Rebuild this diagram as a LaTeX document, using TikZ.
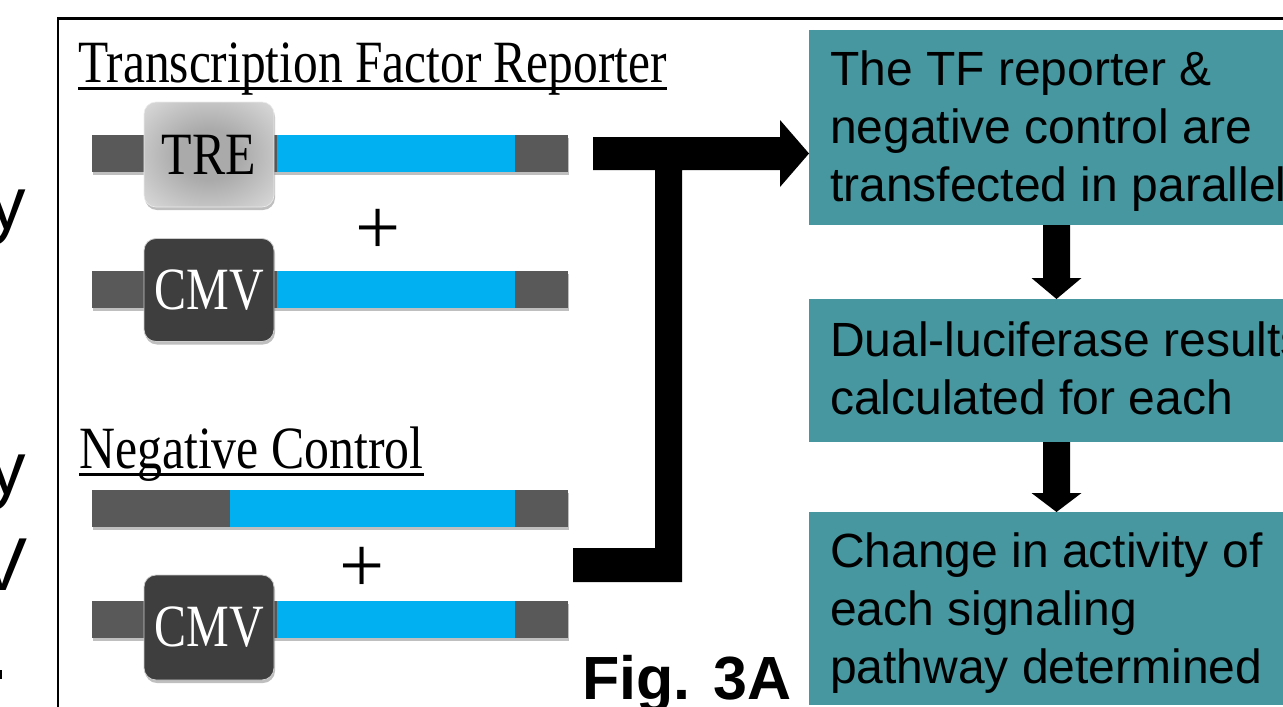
\documentclass[tikz,border=0pt]{standalone}
\usepackage{graphicx}
\usepackage{fontspec}
\setmainfont{Liberation Serif}
\newfontfamily\arialfont{Liberation Sans}
\usetikzlibrary{calc,shadows}

\definecolor{tealbox}{RGB}{70,151,159}
\definecolor{dnagrey}{RGB}{89,89,89}
\definecolor{dnablue}{RGB}{0,176,240}
\definecolor{cmvgrey}{RGB}{62,62,62}
\definecolor{trein}{RGB}{170,170,170}
\definecolor{tremid}{RGB}{215,215,215}
\definecolor{treout}{RGB}{245,245,245}

% soft grey glow for the TRE promoter box
\pgfdeclareradialshading{treglow}{\pgfpoint{0bp}{0bp}}{%
  color(0bp)=(trein); color(12bp)=(trein); color(34bp)=(tremid);
  color(50bp)=(treout); color(75bp)=(treout)}

\begin{document}
\begin{tikzpicture}[x=1pt,y=-1pt,
  softshadow/.style={drop shadow={shadow xshift=1pt,shadow yshift=-3pt,opacity=0.25,fill=black}},
  backbone/.style={rectangle,fill=dnagrey,draw=none,inner sep=0pt,outer sep=0pt,
    minimum height=37pt,softshadow},
  gene/.style={rectangle,fill=dnablue,draw=none,inner sep=0pt,outer sep=0pt,minimum height=37pt},
  promoter/.style={rectangle,rounded corners=12pt,inner sep=0pt,outer sep=0pt,
    minimum width=130pt,softshadow,font=\fontsize{60}{60}\selectfont},
  trebox/.style={promoter,shading=treglow,draw=white!92!black,line width=0.6pt},
  cmvbox/.style={promoter,fill=cmvgrey,draw=white!80!black,line width=0.8pt,text=white},
  heading/.style={inner sep=0pt,anchor=base west,font=\fontsize{60}{60}\selectfont},
  plussign/.style={inner sep=0pt,font=\fontsize{80}{80}\selectfont},
  stepbox/.style={rectangle,fill=tealbox,draw=none,inner sep=0pt,outer sep=0pt,
    anchor=north west,minimum width=495pt},
  steptext/.style={inner sep=0pt,anchor=base west,font=\arialfont\fontsize{48}{58}\selectfont},
  leftfrag/.style={inner sep=0pt,anchor=base west,font=\arialfont\fontsize{75}{75}\selectfont},
  flow/.style={fill=black}
]
\useasboundingbox (0,0) rectangle (1283,707);
\clip (0,0) rectangle (1283,707);

% frame of the panel
\draw[line width=2.5pt] (58,712) -- (58,18.5) -- (1295,18.5);

% text cut at the left border
\node[leftfrag] (fragA) at (-12,229) {y};
\node[leftfrag] (fragB) at (-12,494) {y};
\node[leftfrag] (fragC) at (-23,590) {V};
\fill (0,670) rectangle (2,679);

% ---- transcription factor reporter ----
\node[heading] (hdTF) at (78,82) {\scalebox{0.824}[1]{Transcription Factor Reporter}};
\draw[line width=2.5pt] ([yshift=-6.5pt]hdTF.base west) -- ([yshift=-6.5pt]hdTF.base east);

\node[backbone,minimum width=476pt] (bb1) at (330,153.5) {};
\node[gene,minimum width=238pt] (luc1) at (396,153.5) {};
\node[trebox,minimum height=105pt] (tre) at (209,154.5) {\scalebox{0.83}[1]{TRE}};

\node[plussign] (plus1) at (378,232) {+};

\node[backbone,minimum width=476pt] (bb2) at (330,289) {};
\node[gene,minimum width=238pt] (luc2) at (396,289) {};
\node[cmvbox,minimum height=103pt] (cmv1) at (209,290) {\scalebox{0.8}[1]{CMV}};

% ---- negative control ----
\node[heading] (hdNC) at (79,468) {\scalebox{0.83}[1]{Negative Control}};
\draw[line width=2.5pt] ([yshift=-6.5pt]hdNC.base west) -- ([yshift=-6.5pt]hdNC.base east);

\node[backbone,minimum width=476pt] (bb3) at (330,508.5) {};
\node[gene,minimum width=285pt] (luc3) at (372.5,508.5) {};

\node[plussign] (plus2) at (362,570) {+};

\node[backbone,minimum width=476pt] (bb4) at (330,619) {};
\node[gene,minimum width=238pt] (luc4) at (396,619) {};
\node[cmvbox,minimum height=105pt] (cmv2) at (209,627.5) {\scalebox{0.8}[1]{CMV}};

% ---- workflow boxes ----
\node[stepbox,minimum height=195pt] (box1) at (809,30) {};
\node[steptext] (txt1) at (830,85)
  {\parbox[t]{520pt}{The TF reporter \&\\negative control are\\transfected in parallel}};

\node[stepbox,minimum height=143pt] (box2) at (809,299) {};
\node[steptext] (txt2) at (830,356)
  {\parbox[t]{520pt}{Dual-luciferase results\\calculated for each}};

\node[stepbox,minimum height=193pt] (box3) at (809,512) {};
\node[steptext] (txt3) at (830,567)
  {\parbox[t]{520pt}{Change in activity of\\each signaling\\pathway determined}};

\node[inner sep=0pt,anchor=base west,font=\arialfont\bfseries\fontsize{61}{61}\selectfont]
  (figlabel) at (582,699) {Fig. 3A};

% ---- bracket joining both sets into the first step ----
\coordinate (trOut) at (593,153.5);
\coordinate (ncOut) at (573,565);
\coordinate (jn) at (668.5,153.5);
\coordinate (tip) at (box1.west |- trOut);
\fill[flow]
  ($(trOut)+(0,-16.5)$) -- ($(tip)+(-29,-16.5)$) -- ($(tip)+(-29,-33.5)$) -- (tip)
  -- ($(tip)+(-29,33.5)$) -- ($(tip)+(-29,16.5)$) -- ($(jn)+(13.5,16.5)$)
  -- ($(jn |- ncOut)+(13.5,17)$) -- ($(ncOut)+(0,17)$) -- ($(ncOut)+(0,-17)$)
  -- ($(jn |- ncOut)+(-13.5,-17)$) -- ($(jn)+(-13.5,16.5)$) -- ($(trOut)+(0,16.5)$) -- cycle;

% ---- arrows between the steps ----
\fill[flow] ([xshift=-13.5pt]box1.south) -- ([xshift=-13.5pt,yshift=21pt]box2.north)
  -- ([xshift=-25pt,yshift=21pt]box2.north) -- (box2.north)
  -- ([xshift=25pt,yshift=21pt]box2.north) -- ([xshift=13.5pt,yshift=21pt]box2.north)
  -- ([xshift=13.5pt]box1.south) -- cycle;
\fill[flow] ([xshift=-13.5pt]box2.south) -- ([xshift=-13.5pt,yshift=19pt]box3.north)
  -- ([xshift=-25pt,yshift=19pt]box3.north) -- (box3.north)
  -- ([xshift=25pt,yshift=19pt]box3.north) -- ([xshift=13.5pt,yshift=19pt]box3.north)
  -- ([xshift=13.5pt]box2.south) -- cycle;
\end{tikzpicture}
\end{document}
